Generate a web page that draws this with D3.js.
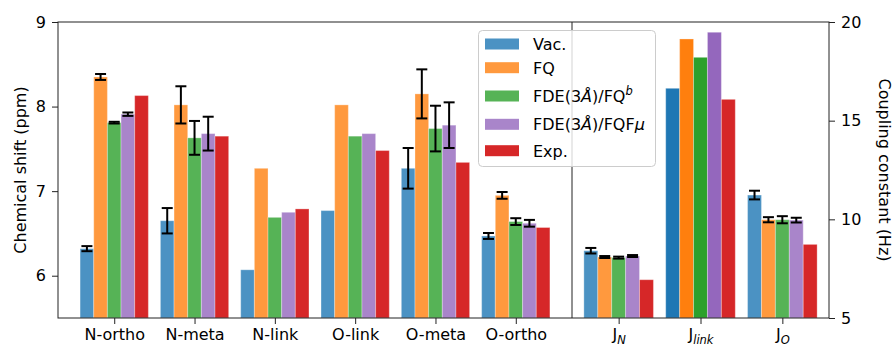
<!DOCTYPE html>
<html><head><meta charset="utf-8">
<script src="https://cdn.jsdelivr.net/npm/d3@7"></script>
<style>
body{margin:0;background:#fff;}
text{font-family:"DejaVu Sans",sans-serif;fill:#000;}
</style></head>
<body><svg id="c" width="895" height="347"></svg>
<script>
// ---------- data ----------
const shiftCats = ["N-ortho","N-meta","N-link","O-link","O-meta","O-ortho"];
const vacShift   = [6.32, 6.65, 6.07, 6.77, 7.27, 6.47];
const vacShiftErr= [0.03, 0.15, 0,    0,    0.24, 0.035];
const fqShift    = [8.35, 8.02, 7.27, 8.02, 8.15, 6.95];
const fqShiftErr = [0.035,0.22, 0,    0,    0.29, 0.04];
const fdeShift   = [7.81, 7.63, 6.69, 7.65, 7.74, 6.64];
const fdeShiftErr= [0.01, 0.20, 0,    0,    0.27, 0.04];
const fqfShift   = [7.91, 7.68, 6.75, 7.68, 7.78, 6.62];
const fqfShiftErr= [0.02, 0.20, 0,    0,    0.27, 0.04];
const expShift   = [8.13, 7.65, 6.79, 7.48, 7.34, 6.57];

const jCats = [["J","N"],["J","link"],["J","O"]];
const vacJ    = [8.41, 16.64, 11.23];
const vacJErr = [0.14, 0,     0.22];
const fqJ     = [8.09, 19.14, 9.98];
const fqJErr  = [0.05, 0,     0.13];
const fdeJ    = [8.06, 18.21, 9.98];
const fdeJErr = [0.05, 0,     0.18];
const fqfJ    = [8.14, 19.48, 9.96];
const fqfJErr = [0.05, 0,     0.12];
const expJ    = [6.94, 16.08, 8.73];

const shiftTicks = [6,7,8,9];
const jTicks = [5,10,15,20];

// colours
const light = ["#4b92c3","#ff993e","#56b356","#a985ca","#d62728"];
const solid = ["#1f77b4","#ff7f0e","#2ca02c","#9467bd","#d62728"];

// ---------- layout ----------
const svg = d3.select("#c");
const plotTop=22, plotBottom=318, xL0=58, xMid=572, xR1=829;
const bw = 0.17;

const xL = d3.scaleLinear().domain([-0.7, 5.7]).range([xL0, xMid]);
const xR = d3.scaleLinear().domain([-0.57, 2.57]).range([xMid, xR1]);
const yL = d3.scaleLinear().domain([5.5, 9]).range([plotBottom, plotTop]);
const yR = d3.scaleLinear().domain([5, 20]).range([plotBottom, plotTop]);

const shiftSeries = [
  [vacShift, vacShiftErr],[fqShift, fqShiftErr],[fdeShift, fdeShiftErr],
  [fqfShift, fqfShiftErr],[expShift, null]];
const jSeries = [
  [vacJ, vacJErr],[fqJ, fqJErr],[fdeJ, fdeJErr],[fqfJ, fqfJErr],[expJ, null]];

function drawBars(g, series, x, y, y0, colorFn){
  series.forEach(([vals, errs], s) => {
    vals.forEach((v, i) => {
      const xc = i + (s-2)*bw;
      g.append("rect")
        .attr("x", x(xc - bw/2)).attr("width", x(xc + bw/2) - x(xc - bw/2))
        .attr("y", y(v)).attr("height", y(y0) - y(v))
        .attr("fill", colorFn(s, i))
        .attr("stroke", "#fff").attr("stroke-opacity", 0.3).attr("stroke-width", 1);
    });
  });
  series.forEach(([vals, errs], s) => {
    if(!errs) return;
    vals.forEach((v, i) => {
      const e = errs[i]; if(!e) return;
      const cx = x(i + (s-2)*bw);
      const eg = g.append("g").attr("stroke","#000").attr("stroke-width",2);
      eg.append("line").attr("x1",cx).attr("x2",cx).attr("y1",y(v-e)).attr("y2",y(v+e));
      [v-e, v+e].forEach(t => eg.append("line").attr("x1",cx-5.5).attr("x2",cx+5.5).attr("y1",y(t)).attr("y2",y(t)));
    });
  });
}

const gBars = svg.append("g");
drawBars(gBars, shiftSeries, xL, yL, 5.5, (s,i)=>light[s]);
drawBars(gBars, jSeries, xR, yR, 5, (s,i)=> i===1 ? solid[s] : light[s]);

// spines
const sp = svg.append("g").attr("stroke","#222").attr("stroke-width",1).attr("fill","none");
sp.append("rect").attr("x",xL0).attr("y",plotTop).attr("width",xR1-xL0).attr("height",plotBottom-plotTop);
sp.append("line").attr("x1",xMid).attr("x2",xMid).attr("y1",plotTop).attr("y2",plotBottom);

// axes
function styleAxis(g){
  g.select(".domain").remove();
  g.selectAll(".tick line").attr("stroke","#222");
  g.selectAll(".tick text").attr("font-size",16).attr("font-family","DejaVu Sans");
}
svg.append("g").attr("transform",`translate(${xL0},0)`)
  .call(d3.axisLeft(yL).tickValues(shiftTicks).tickSize(6).tickPadding(6).tickFormat(d3.format("d")))
  .call(styleAxis);
svg.append("g").attr("transform",`translate(${xR1},0)`)
  .call(d3.axisRight(yR).tickValues(jTicks).tickSize(6).tickPadding(6).tickFormat(d3.format("d")))
  .call(styleAxis);
svg.append("g").attr("transform",`translate(0,${plotBottom})`)
  .call(d3.axisBottom(xL).tickValues(d3.range(shiftCats.length)).tickSize(6).tickPadding(5).tickFormat(i=>shiftCats[i]))
  .call(styleAxis);
const gxR = svg.append("g").attr("transform",`translate(0,${plotBottom})`)
  .call(d3.axisBottom(xR).tickValues(d3.range(jCats.length)).tickSize(6).tickPadding(5).tickFormat(()=>""))
  .call(styleAxis);
gxR.selectAll(".tick text").each(function(d){
  const t = d3.select(this);
  t.append("tspan").text(jCats[d][0]);
  t.append("tspan").attr("font-style","italic").attr("font-size",11.5).attr("dy",4).text(jCats[d][1]);
});

// axis labels
svg.append("text").attr("transform","translate(21,170) rotate(-90)")
  .attr("text-anchor","middle").attr("dominant-baseline","middle").attr("font-size",16)
  .text("Chemical shift (ppm)");
svg.append("text").attr("transform","translate(883,170) rotate(90)")
  .attr("text-anchor","middle").attr("dominant-baseline","middle").attr("font-size",16)
  .text("Coupling constant (Hz)");

// legend
const legendNames = [
  [["Vac.",""]],
  [["FQ",""]],
  [["FDE(3",""],["Å","i"],[")/FQ",""],["b","sup"]],
  [["FDE(3",""],["Å","i"],[")/FQF",""],["μ","i"]],
  [["Exp.",""]]
];
const legendY = [44, 67.7, 96, 124.3, 150.7];
const lg = svg.append("g");
lg.append("rect").attr("x",478.5).attr("y",30.5).attr("width",177).attr("height",136)
  .attr("rx",4).attr("fill","#fff").attr("fill-opacity",0.8).attr("stroke","#ccc").attr("stroke-width",1);
legendNames.forEach((parts, k) => {
  lg.append("rect").attr("x",485).attr("y",legendY[k]-5.5).attr("width",34).attr("height",11).attr("fill",light[k]);
  const t = lg.append("text").attr("x",533).attr("y",legendY[k]+6).attr("font-size",16);
  parts.forEach(([s, st]) => {
    const ts = t.append("tspan").text(s);
    if(st==="i") ts.attr("font-style","italic");
    if(st==="sup") ts.attr("font-style","italic").attr("font-size",11.5).attr("dy",-7);
  });
});
</script></body></html>
